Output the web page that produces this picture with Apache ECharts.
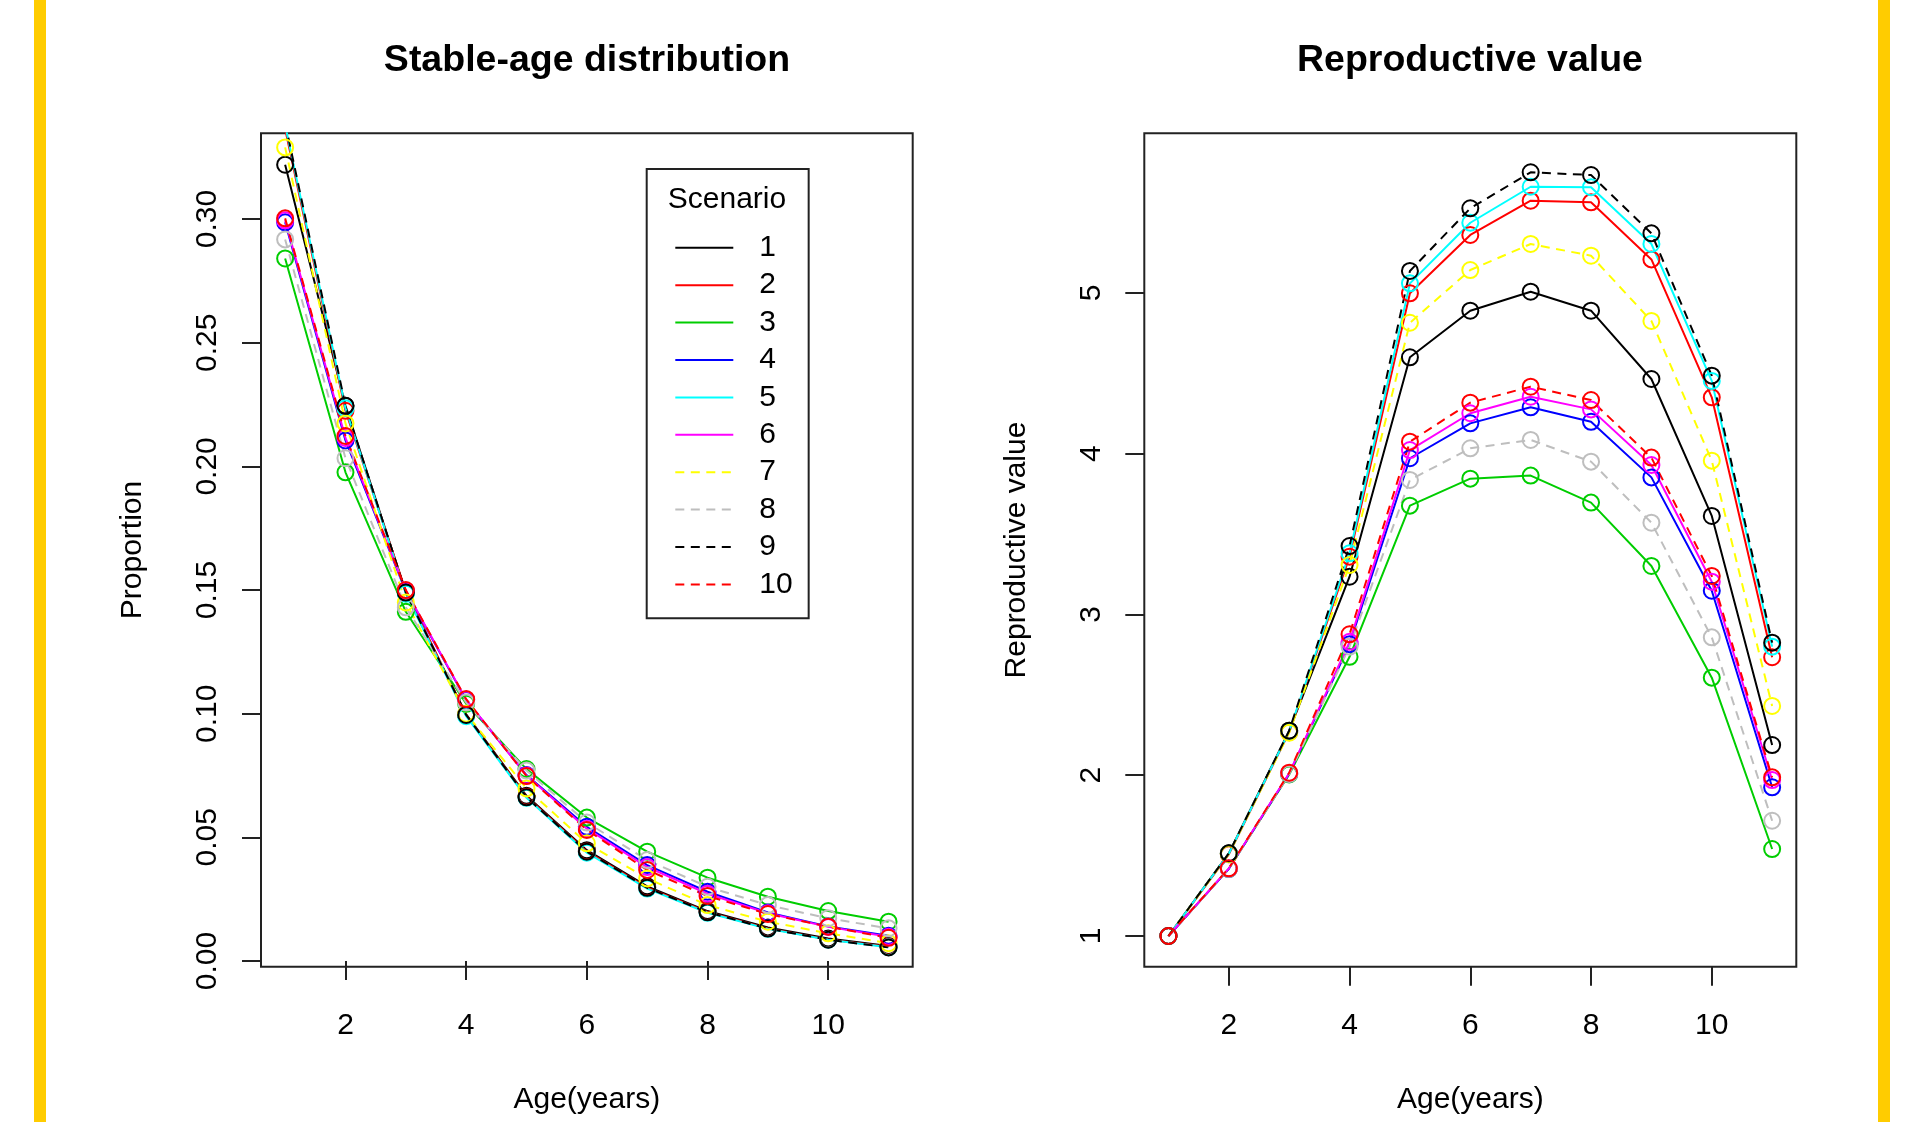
<!DOCTYPE html>
<html><head><meta charset="utf-8">
<script src="https://cdn.jsdelivr.net/npm/echarts@6/dist/echarts.min.js"></script>
<style>
html,body{margin:0;padding:0;background:#fff;}
#wrap{position:relative;width:1926px;height:1122px;overflow:hidden;background:#fff;}
#chart{position:absolute;left:0;top:0;width:1926px;height:1122px;}
.bar{position:absolute;top:0;height:1122px;background:#FFCC00;}
</style></head><body>
<div id="wrap">
<div class="bar" style="left:34px;width:12px"></div>
<div class="bar" style="left:1878px;width:12px"></div>
<div id="chart"></div>
</div>
<script>
// ---------- data ----------
const ages = [1, 2, 3, 4, 5, 6, 7, 8, 9, 10, 11];
const scenarios = ['1', '2', '3', '4', '5', '6', '7', '8', '9', '10'];
const xTicks = [2, 4, 6, 8, 10];
const propTicks = [0, 0.05, 0.10, 0.15, 0.20, 0.25, 0.30];
const reproTicks = [1, 2, 3, 4, 5];

// Stable-age distribution (proportion) per scenario
const stable1  = [0.3220, 0.2245, 0.1490, 0.0997, 0.0668, 0.0448, 0.0302, 0.0202, 0.0136, 0.0091, 0.0061];
const stable2  = [0.3365, 0.2225, 0.1495, 0.0995, 0.0664, 0.0443, 0.0297, 0.0198, 0.0132, 0.0087, 0.0058];
const stable3  = [0.2841, 0.1976, 0.1412, 0.1040, 0.0776, 0.0580, 0.0442, 0.0337, 0.0260, 0.0202, 0.0159];
const stable4  = [0.2987, 0.2105, 0.1495, 0.1055, 0.0752, 0.0543, 0.0388, 0.0280, 0.0196, 0.0140, 0.0102];
const stable5  = [0.3380, 0.2235, 0.1485, 0.0990, 0.0660, 0.0438, 0.0293, 0.0195, 0.0130, 0.0086, 0.0056];
const stable6  = [0.2995, 0.2115, 0.1498, 0.1057, 0.0750, 0.0535, 0.0380, 0.0272, 0.0193, 0.0138, 0.0098];
const stable7  = [0.3290, 0.2174, 0.1450, 0.1000, 0.0698, 0.0476, 0.0334, 0.0226, 0.0159, 0.0112, 0.0072];
const stable8  = [0.2918, 0.2033, 0.1430, 0.1045, 0.0770, 0.0560, 0.0408, 0.0300, 0.0226, 0.0173, 0.0132];
const stable9  = [0.3390, 0.2245, 0.1490, 0.0995, 0.0662, 0.0442, 0.0296, 0.0197, 0.0131, 0.0086, 0.0055];
const stable10 = [0.3003, 0.2123, 0.1500, 0.1059, 0.0748, 0.0530, 0.0368, 0.0263, 0.0190, 0.0139, 0.0094];

// Reproductive value per scenario
const repro1  = [1, 1.514, 2.277, 3.235, 4.600, 4.890, 5.008, 4.890, 4.465, 3.613, 2.188];
const repro2  = [1, 1.508, 2.268, 3.360, 4.998, 5.361, 5.574, 5.564, 5.209, 4.351, 2.734];
const repro3  = [1, 1.418, 2.005, 2.737, 3.677, 3.845, 3.864, 3.696, 3.302, 2.607, 1.541];
const repro4  = [1, 1.418, 2.010, 2.815, 3.972, 4.189, 4.289, 4.199, 3.853, 3.148, 1.925];
const repro5  = [1, 1.512, 2.272, 3.381, 5.060, 5.437, 5.661, 5.658, 5.305, 4.453, 2.800];
const repro6  = [1, 1.420, 2.012, 2.830, 4.023, 4.252, 4.355, 4.276, 3.930, 3.204, 1.970];
const repro7  = [1, 1.510, 2.265, 3.308, 4.815, 5.143, 5.305, 5.232, 4.826, 3.957, 2.431];
const repro8  = [1, 1.418, 2.008, 2.800, 3.837, 4.034, 4.086, 3.951, 3.571, 2.858, 1.717];
const repro9  = [1, 1.514, 2.277, 3.426, 5.137, 5.527, 5.751, 5.734, 5.371, 4.486, 2.825];
const repro10 = [1, 1.421, 2.016, 2.877, 4.075, 4.318, 4.417, 4.334, 3.976, 3.240, 1.987];

const stableAll = [stable1, stable2, stable3, stable4, stable5, stable6, stable7, stable8, stable9, stable10];
const reproAll = [repro1, repro2, repro3, repro4, repro5, repro6, repro7, repro8, repro9, repro10];

// ---------- styles ----------
const colors = ['#000000', '#FF0000', '#00CD00', '#0000FF', '#00FFFF', '#FF00FF', '#FFFF00', '#BEBEBE', '#000000', '#FF0000'];
const dashed = [false, false, false, false, false, false, true, true, true, true];
const FONT = '"Liberation Sans", Arial, Helvetica, sans-serif';
const INK = '#222';

function xAxisCfg(gi) {
  return {
    type: 'value', gridIndex: gi, min: 0.6, max: 11.4,
    axisLine: { show: false }, splitLine: { show: false },
    axisTick: { show: true, length: 19, customValues: xTicks, lineStyle: { color: INK, width: 2 } },
    axisLabel: { customValues: xTicks, margin: 44, fontSize: 30, fontFamily: FONT, color: '#000' },
    name: 'Age(years)', nameLocation: 'middle', nameGap: 118,
    nameTextStyle: { fontSize: 30, fontFamily: FONT, color: '#000' }
  };
}
function yAxisCfg(gi, min, max, ticks, fmt, name) {
  return {
    type: 'value', gridIndex: gi, min: min, max: max,
    axisLine: { show: false }, splitLine: { show: false },
    axisTick: { show: true, length: 19, customValues: ticks, lineStyle: { color: INK, width: 2 } },
    axisLabel: { customValues: ticks, rotate: 90, margin: 38, fontSize: 30, fontFamily: FONT, color: '#000', formatter: fmt },
    name: name, nameLocation: 'middle', nameGap: 113,
    nameTextStyle: { fontSize: 30, fontFamily: FONT, color: '#000' }
  };
}

const series = [];
[stableAll, reproAll].forEach((set, gi) => {
  set.forEach((vals, i) => {
    series.push({
      type: 'line', name: scenarios[i], xAxisIndex: gi, yAxisIndex: gi,
      data: ages.map((a, j) => [a, vals[j]]),
      symbol: 'circle', symbolSize: 16, showSymbol: true, showAllSymbol: true,
      clip: true,
      lineStyle: { color: colors[i], width: 2, type: dashed[i] ? [9, 6.5] : 'solid' },
      itemStyle: { color: 'rgba(0,0,0,0)', borderColor: colors[i], borderWidth: 2 },
      emphasis: { disabled: true }
    });
  });
});

const chart = echarts.init(document.getElementById('chart'), null, { renderer: 'canvas' });
chart.setOption({
  animation: false,
  backgroundColor: 'transparent',
  title: [
    { text: 'Stable-age distribution', left: 582, top: 37, textAlign: 'center',
      textStyle: { fontSize: 37.5, fontWeight: 'bold', fontFamily: FONT, color: '#000' } },
    { text: 'Reproductive value', left: 1465, top: 37, textAlign: 'center',
      textStyle: { fontSize: 37.5, fontWeight: 'bold', fontFamily: FONT, color: '#000' } },
    { text: 'Scenario', left: 722, top: 180, textAlign: 'center',
      textStyle: { fontSize: 30, fontWeight: 'normal', fontFamily: FONT, color: '#000' } }
  ],
  grid: [
    { left: 261, top: 133.3, width: 651.7, height: 833.4, show: true, borderColor: INK, borderWidth: 2, backgroundColor: 'transparent' },
    { left: 1144.3, top: 133.3, width: 652, height: 833.4, show: true, borderColor: INK, borderWidth: 2, backgroundColor: 'transparent' }
  ],
  xAxis: [xAxisCfg(0), xAxisCfg(1)],
  yAxis: [
    yAxisCfg(0, -0.0023, 0.3347, propTicks, v => v.toFixed(2), 'Proportion'),
    yAxisCfg(1, 0.809, 5.9935, reproTicks, v => String(Math.round(v)), 'Reproductive value')
  ],
  legend: {
    orient: 'vertical', left: 646.7, top: 169,
    padding: [63.8, 16, 18.8, 27.6],
    itemWidth: 58, itemHeight: 14, itemGap: 7.4,
    borderColor: INK, borderWidth: 2, selectedMode: false,
    itemStyle: { opacity: 0 },
    textStyle: { fontSize: 30, lineHeight: 30, fontFamily: FONT, color: '#000', padding: [0, 0, 0, 21] },
    data: scenarios
  },
  series: series
});
</script>
</body></html>
